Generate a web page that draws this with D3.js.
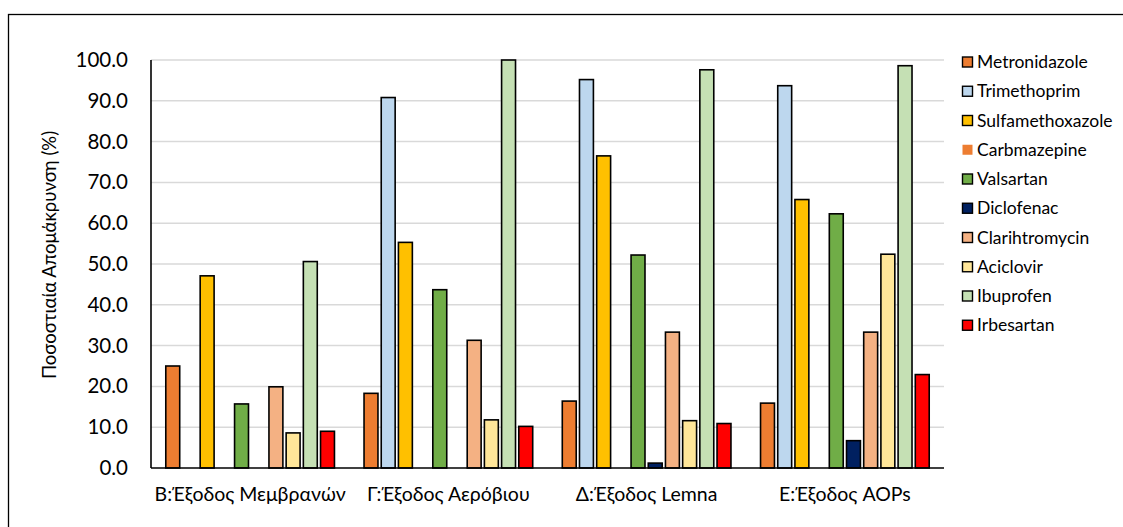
<!DOCTYPE html>
<html lang="el">
<head>
<meta charset="utf-8">
<script src="https://d3js.org/d3.v7.min.js"></script>
<style>
  body { margin: 0; background: #fff; }
  text { font-family: Lato, "Open Sans", "Noto Sans", sans-serif; fill: #000; }
</style>
</head>
<body>
<script>
// categories on the x axis
const categories = ["Β:Έξοδος Μεμβρανών", "Γ:Έξοδος Αερόβιου", "Δ:Έξοδος Lemna", "Ε:Έξοδος AOPs"];

// one list of values per compound (null = no bar)
const metronidazole    = [25.0, 18.3, 16.4, 15.9];
const trimethoprim     = [null, 90.8, 95.2, 93.7];
const sulfamethoxazole = [47.1, 55.3, 76.5, 65.8];
const carbmazepine     = [0, 0, 0, 0];
const valsartan        = [15.7, 43.7, 52.2, 62.3];
const diclofenac       = [null, null, 1.2, 6.7];
const clarithromycin   = [19.9, 31.3, 33.3, 33.3];
const aciclovir        = [8.6, 11.8, 11.6, 52.4];
const ibuprofen        = [50.6, 100.0, 97.6, 98.6];
const irbesartan       = [9.0, 10.2, 10.9, 22.9];

const seriesNames = ["Metronidazole", "Trimethoprim", "Sulfamethoxazole", "Carbmazepine", "Valsartan",
                     "Diclofenac", "Clarihtromycin", "Aciclovir", "Ibuprofen", "Irbesartan"];
const seriesValues = [metronidazole, trimethoprim, sulfamethoxazole, carbmazepine, valsartan,
                      diclofenac, clarithromycin, aciclovir, ibuprofen, irbesartan];
const seriesColors = ["#ED7D31", "#BDD7EE", "#FFC000", "#ED7D31", "#70AD47",
                      "#002060", "#F4B183", "#FFE699", "#C5E0B4", "#FF0000"];
const yTicks = [0, 10, 20, 30, 40, 50, 60, 70, 80, 90, 100];

const width = 1123, height = 527;
const plot = { left: 151, right: 944, top: 60, bottom: 468 };

const svg = d3.select("body").append("svg")
  .attr("width", width)
  .attr("height", height);

// outer chart border
svg.append("rect")
  .attr("x", 8.5).attr("y", 14.5)
  .attr("width", width).attr("height", height)
  .attr("fill", "none").attr("stroke", "#000").attr("stroke-width", 1.3);

const y = d3.scaleLinear().domain([0, 100]).range([plot.bottom, plot.top]);
const x0 = d3.scaleBand().domain(categories).range([plot.left, plot.right]).padding(0);
const x1 = d3.scaleBand().domain(seriesNames).range([0, x0.bandwidth()])
  .paddingInner(0.19).paddingOuter(0.86);
const color = d3.scaleOrdinal().domain(seriesNames).range(seriesColors);

// gridlines
svg.append("g").selectAll("line")
  .data(yTicks.slice(1))
  .enter().append("line")
  .attr("x1", plot.left).attr("x2", plot.right)
  .attr("y1", d => y(d)).attr("y2", d => y(d))
  .attr("stroke", "#d9d9d9").attr("stroke-width", 1.5);

// bars
const rows = [];
categories.forEach((c, ci) => {
  seriesNames.forEach((s, si) => {
    const v = seriesValues[si][ci];
    if (v !== null) rows.push({ cat: c, name: s, value: v });
  });
});

svg.append("g").selectAll("rect")
  .data(rows)
  .enter().append("rect")
  .attr("x", d => x0(d.cat) + x1(d.name))
  .attr("y", d => y(d.value))
  .attr("width", x1.bandwidth())
  .attr("height", d => y(0) - y(d.value))
  .attr("fill", d => color(d.name))
  .attr("stroke", d => d.name === "Carbmazepine" ? "#444" : "#000")
  .attr("stroke-width", d => d.name === "Carbmazepine" ? 1 : 1.6);

// y axis
const yAxis = d3.axisLeft(y).tickValues(yTicks).tickFormat(d3.format(".1f")).tickSize(0).tickPadding(23);
const gy = svg.append("g").attr("transform", "translate(" + plot.left + ",0)").call(yAxis);
gy.select(".domain").remove();
gy.selectAll("text").style("font-size", "20.5px").style("font-family", null);

svg.append("line")
  .attr("x1", plot.left).attr("x2", plot.left)
  .attr("y1", plot.top).attr("y2", plot.bottom)
  .attr("stroke", "#000").attr("stroke-width", 1.6);

// x axis
svg.append("line")
  .attr("x1", plot.left).attr("x2", plot.right)
  .attr("y1", plot.bottom).attr("y2", plot.bottom)
  .attr("stroke", "#000").attr("stroke-width", 1.6);

const xAxis = d3.axisBottom(x0).tickSize(0).tickPadding(19);
const gx = svg.append("g").attr("transform", "translate(0," + plot.bottom + ")").call(xAxis);
gx.select(".domain").remove();
gx.selectAll("text").style("font-size", "19.5px").style("font-family", null);

// y title
svg.append("text")
  .attr("transform", "translate(56,255) rotate(-90)")
  .attr("text-anchor", "middle")
  .style("font-size", "18.5px")
  .text("Ποσοστιαία Απομάκρυνση (%)");

// legend
const legend = svg.append("g").attr("transform", "translate(962,62)");
const item = legend.selectAll("g")
  .data(seriesNames)
  .enter().append("g")
  .attr("transform", (d, i) => "translate(0," + i * 29.25 + ")");
item.append("rect")
  .attr("x", 0.5).attr("y", -5)
  .attr("width", 10).attr("height", 10)
  .attr("fill", d => color(d))
  .attr("stroke", d => d === "Carbmazepine" ? "none" : "#000")
  .attr("stroke-width", 1.4);
item.append("text")
  .attr("x", 15).attr("y", 0).attr("dy", "0.35em")
  .style("font-size", "17.5px")
  .text(d => d);
</script>
</body>
</html>
